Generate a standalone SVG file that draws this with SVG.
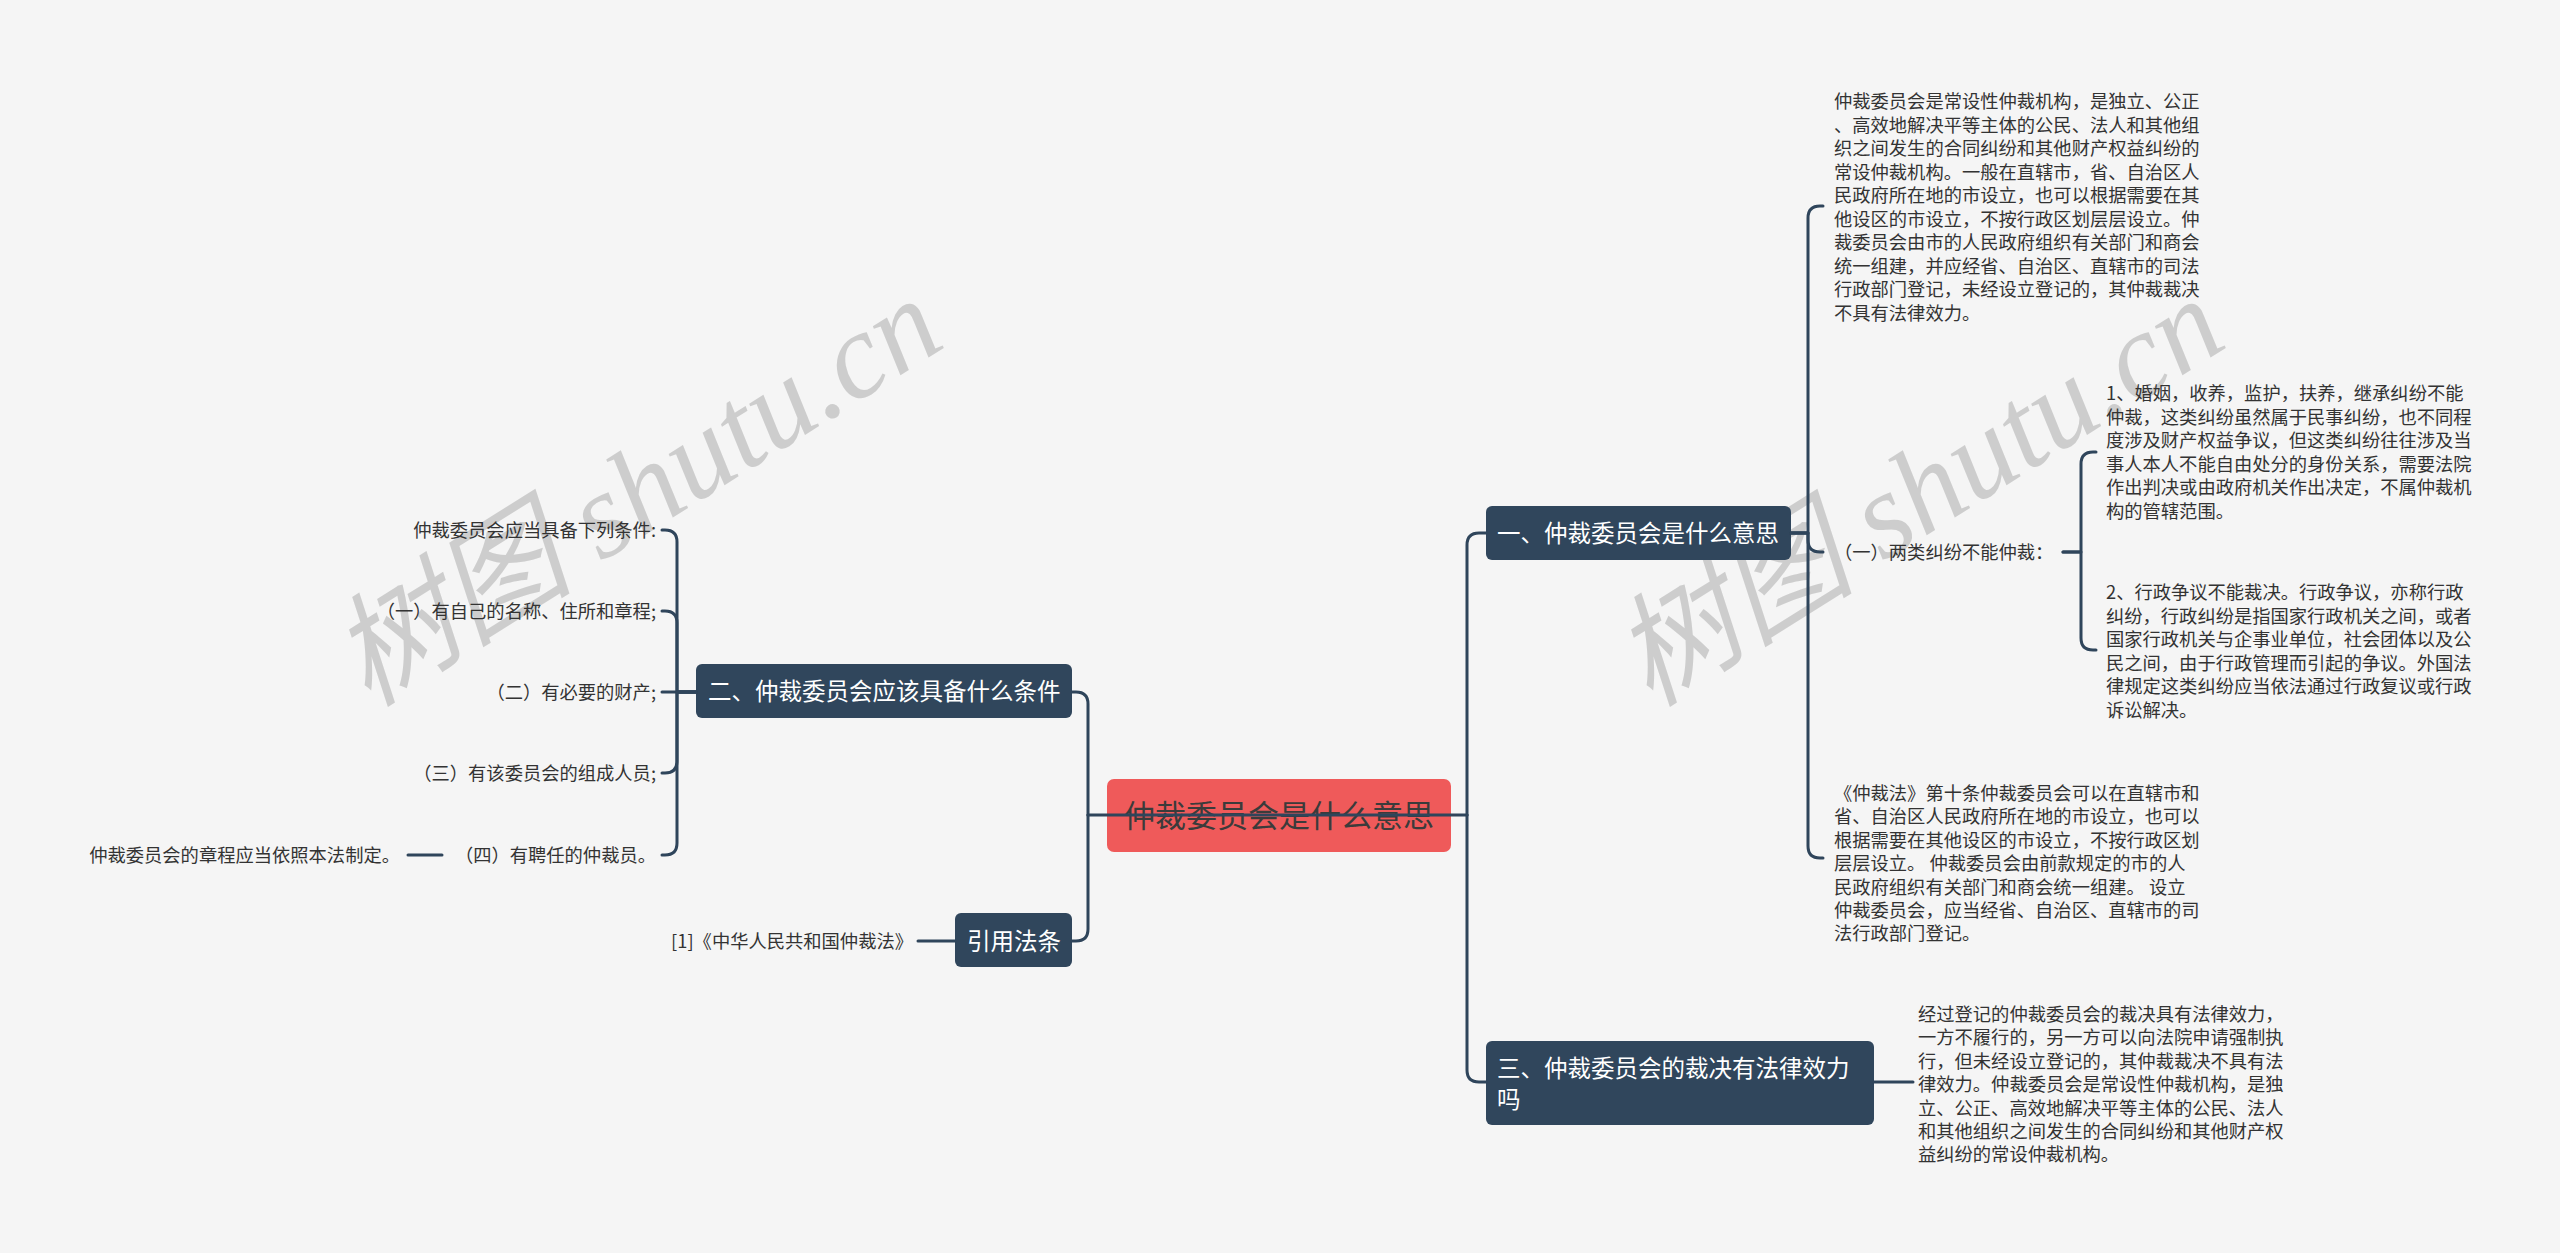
<svg xmlns="http://www.w3.org/2000/svg" width="2560" height="1253" viewBox="0 0 2560 1253">
<style>
.bg{fill:#f5f5f5}
.conn{stroke:#2f455b;stroke-width:3;fill:none;stroke-linecap:round;stroke-linejoin:round}
.box{fill:#30465c}
.nt{fill:#ffffff;font-size:23.5px;font-family:'Noto Sans CJK SC','Noto Sans',sans-serif}
.t{fill:#333333;font-size:18.3px;font-family:'Noto Sans CJK SC','Noto Sans',sans-serif}
.wm{fill:#b4b4b4;opacity:0.6;font-size:122px;font-family:'Liberation Serif','Noto Sans CJK SC',serif;font-style:italic}
</style>
<rect class="bg" x="0" y="0" width="2560" height="1253"/>

<g id="watermarks">
<text class="wm" transform="translate(368,708) rotate(-32)">树图 shutu.cn</text>
<text class="wm" transform="translate(1650,708) rotate(-32)">树图 shutu.cn</text>
</g>

<g id="center">
<rect x="1107" y="779" width="344" height="73" rx="7" fill="#ef5a5a"/>
<text x="1279" y="827" text-anchor="middle" style="fill:#3b3b3b;font-size:31px;font-family:'Noto Sans CJK SC','Noto Sans',sans-serif">仲裁委员会是什么意思</text>
</g>

<g id="n1">
<rect class="box" x="1486" y="506" width="305" height="54" rx="6"/>
<text class="nt" x="1497" y="542">一、仲裁委员会是什么意思</text>
</g>

<g id="n2">
<rect class="box" x="696" y="664" width="376" height="54" rx="6"/>
<text class="nt" x="708" y="700">二、仲裁委员会应该具备什么条件</text>
</g>

<g id="n3">
<rect class="box" x="955" y="913" width="117" height="54" rx="6"/>
<text class="nt" x="967" y="950">引用法条</text>
</g>

<g id="n4">
<rect class="box" x="1486" y="1041" width="388" height="84" rx="6"/>
<text class="nt" x="1497" y="1077">三、仲裁委员会的裁决有法律效力</text>
<text class="nt" x="1497" y="1108">吗</text>
</g>

<g id="t1">
<text class="t" x="1834" y="108">
<tspan x="1834">仲裁委员会是常设性仲裁机构，是独立、公正</tspan>
<tspan x="1834" dy="23.5">、高效地解决平等主体的公民、法人和其他组</tspan>
<tspan x="1834" dy="23.5">织之间发生的合同纠纷和其他财产权益纠纷的</tspan>
<tspan x="1834" dy="23.5">常设仲裁机构。一般在直辖市，省、自治区人</tspan>
<tspan x="1834" dy="23.5">民政府所在地的市设立，也可以根据需要在其</tspan>
<tspan x="1834" dy="23.5">他设区的市设立，不按行政区划层层设立。仲</tspan>
<tspan x="1834" dy="23.5">裁委员会由市的人民政府组织有关部门和商会</tspan>
<tspan x="1834" dy="23.5">统一组建，并应经省、自治区、直辖市的司法</tspan>
<tspan x="1834" dy="23.5">行政部门登记，未经设立登记的，其仲裁裁决</tspan>
<tspan x="1834" dy="23.5">不具有法律效力。</tspan>
</text>
</g>

<g id="t2">
<text class="t" x="1834" y="559">（一）两类纠纷不能仲裁：</text>
</g>

<g id="t3">
<text class="t" x="2106" y="400">
<tspan x="2106">1、婚姻，收养，监护，扶养，继承纠纷不能</tspan>
<tspan x="2106" dy="23.6">仲裁，这类纠纷虽然属于民事纠纷，也不同程</tspan>
<tspan x="2106" dy="23.6">度涉及财产权益争议，但这类纠纷往往涉及当</tspan>
<tspan x="2106" dy="23.6">事人本人不能自由处分的身份关系，需要法院</tspan>
<tspan x="2106" dy="23.6">作出判决或由政府机关作出决定，不属仲裁机</tspan>
<tspan x="2106" dy="23.6">构的管辖范围。</tspan>
</text>
</g>

<g id="t4">
<text class="t" x="2106" y="599">
<tspan x="2106">2、行政争议不能裁决。行政争议，亦称行政</tspan>
<tspan x="2106" dy="23.5">纠纷，行政纠纷是指国家行政机关之间，或者</tspan>
<tspan x="2106" dy="23.5">国家行政机关与企事业单位，社会团体以及公</tspan>
<tspan x="2106" dy="23.5">民之间，由于行政管理而引起的争议。外国法</tspan>
<tspan x="2106" dy="23.5">律规定这类纠纷应当依法通过行政复议或行政</tspan>
<tspan x="2106" dy="23.5">诉讼解决。</tspan>
</text>
</g>

<g id="t5">
<text class="t" x="1834" y="800">
<tspan x="1834">《仲裁法》第十条仲裁委员会可以在直辖市和</tspan>
<tspan x="1834" dy="23.4">省、自治区人民政府所在地的市设立，也可以</tspan>
<tspan x="1834" dy="23.4">根据需要在其他设区的市设立，不按行政区划</tspan>
<tspan x="1834" dy="23.4">层层设立。 仲裁委员会由前款规定的市的人</tspan>
<tspan x="1834" dy="23.4">民政府组织有关部门和商会统一组建。 设立</tspan>
<tspan x="1834" dy="23.4">仲裁委员会，应当经省、自治区、直辖市的司</tspan>
<tspan x="1834" dy="23.4">法行政部门登记。</tspan>
</text>
</g>

<g id="t6">
<text class="t" x="1918" y="1021">
<tspan x="1918">经过登记的仲裁委员会的裁决具有法律效力，</tspan>
<tspan x="1918" dy="23.4">一方不履行的，另一方可以向法院申请强制执</tspan>
<tspan x="1918" dy="23.4">行，但未经设立登记的，其仲裁裁决不具有法</tspan>
<tspan x="1918" dy="23.4">律效力。仲裁委员会是常设性仲裁机构，是独</tspan>
<tspan x="1918" dy="23.4">立、公正、高效地解决平等主体的公民、法人</tspan>
<tspan x="1918" dy="23.4">和其他组织之间发生的合同纠纷和其他财产权</tspan>
<tspan x="1918" dy="23.4">益纠纷的常设仲裁机构。</tspan>
</text>
</g>

<g id="l1"><text class="t" x="656" y="536.5" text-anchor="end">仲裁委员会应当具备下列条件:</text></g>
<g id="l2"><text class="t" x="656" y="617.5" text-anchor="end">（一）有自己的名称、住所和章程;</text></g>
<g id="l3"><text class="t" x="656" y="698.5" text-anchor="end">（二）有必要的财产;</text></g>
<g id="l4"><text class="t" x="656" y="779.5" text-anchor="end">（三）有该委员会的组成人员;</text></g>
<g id="l5"><text class="t" x="656" y="861.5" text-anchor="end">（四）有聘任的仲裁员。</text></g>
<g id="l6"><text class="t" x="400" y="861.5" text-anchor="end">仲裁委员会的章程应当依照本法制定。</text></g>
<g id="l7"><text class="t" x="913" y="947.5" text-anchor="end">[1]《中华人民共和国仲裁法》</text></g>

<g id="connectors">
<path class="conn" d="M1088 815 H1467"/>
<path class="conn" d="M1088 815 V704 Q1088 692 1076 692 H1072"/>
<path class="conn" d="M1088 815 V929 Q1088 941 1076 941 H1072"/>
<path class="conn" d="M1467 815 V545 Q1467 533 1479 533 H1486"/>
<path class="conn" d="M1467 815 V1070 Q1467 1082 1479 1082 H1486"/>
<path class="conn" d="M1791 533 H1808 V218 Q1808 206 1820 206 H1823"/>
<path class="conn" d="M1791 533 H1808 V540 Q1808 552 1820 552 H1823"/>
<path class="conn" d="M1791 533 H1808 V846 Q1808 858 1820 858 H1823"/>
<path class="conn" d="M2063 552 H2081 V464 Q2081 452 2093 452 H2096"/>
<path class="conn" d="M2063 552 H2081 V638 Q2081 650 2093 650 H2096"/>
<path class="conn" d="M1874 1082 H1913"/>
<path class="conn" d="M696 692 H677 V542 Q677 530 665 530 H662"/>
<path class="conn" d="M696 692 H677 V623 Q677 611 665 611 H662"/>
<path class="conn" d="M696 692 H662"/>
<path class="conn" d="M696 692 H677 V761 Q677 773 665 773 H662"/>
<path class="conn" d="M696 692 H677 V843 Q677 855 665 855 H662"/>
<path class="conn" d="M442 855 H408"/>
<path class="conn" d="M955 941 H918"/>
</g>
</svg>
